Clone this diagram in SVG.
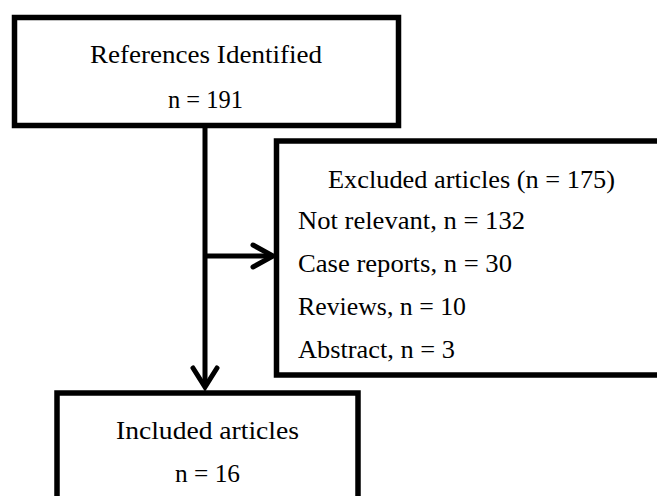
<svg xmlns="http://www.w3.org/2000/svg" width="657" height="496" viewBox="0 0 657 496">
<style>
.box{fill:#fff;stroke:#000;stroke-width:5.5}
.t{font-family:"Liberation Serif","Times New Roman",serif;font-size:25px;fill:#000}
.c{text-anchor:middle}
.ln{fill:none;stroke:#000;stroke-width:5;stroke-linecap:butt}
.hd{fill:none;stroke:#000;stroke-width:5;stroke-linecap:round;stroke-linejoin:miter}
</style>
<rect width="657" height="496" fill="#fff"/>
<g id="connectors">
<line class="ln" x1="205" y1="128" x2="205" y2="386"/>
<polyline class="hd" points="193,368 205,387 217,368"/>
<line class="ln" x1="205" y1="256" x2="272" y2="256"/>
<polyline class="hd" points="253,245 273,256 253,267"/>
</g>
<g id="references">
<rect class="box" x="14.5" y="17.5" width="384" height="108"/>
<text class="t c" x="206" y="63" textLength="232" lengthAdjust="spacingAndGlyphs">References Identified</text>
<text class="t c" x="205.5" y="108" textLength="75" lengthAdjust="spacingAndGlyphs">n = 191</text>
</g>
<g id="excluded">
<rect class="box" x="276.5" y="141" width="400" height="234"/>
<text class="t" x="328" y="188" textLength="287" lengthAdjust="spacingAndGlyphs">Excluded articles (n = 175)</text>
<text class="t" x="298" y="229" textLength="227" lengthAdjust="spacingAndGlyphs">Not relevant, n = 132</text>
<text class="t" x="298" y="272" textLength="214" lengthAdjust="spacingAndGlyphs">Case reports, n = 30</text>
<text class="t" x="298" y="315" textLength="168" lengthAdjust="spacingAndGlyphs">Reviews, n = 10</text>
<text class="t" x="298" y="358" textLength="157" lengthAdjust="spacingAndGlyphs">Abstract, n = 3</text>
</g>
<g id="included">
<rect class="box" x="57" y="393" width="301" height="130"/>
<text class="t c" x="207.5" y="439" textLength="183" lengthAdjust="spacingAndGlyphs">Included articles</text>
<text class="t c" x="207.5" y="482" textLength="65" lengthAdjust="spacingAndGlyphs">n = 16</text>
</g>
</svg>
